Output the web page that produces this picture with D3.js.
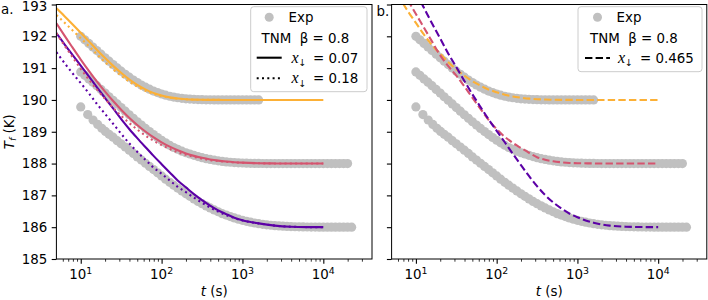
<!DOCTYPE html>
<html><head><meta charset="utf-8">
<script src="https://cdn.jsdelivr.net/npm/d3@7"></script>
<style>
body{margin:0;background:#fff;}
svg{display:block;font-family:"DejaVu Sans",sans-serif;}
text{white-space:pre;}
</style></head><body>
<svg id="chart" width="708" height="300"></svg>
<script>
// ---------- data ----------
const tExp = [10, 11.2, 12.6, 14.1, 15.8, 17.8, 20, 22.4, 25.1, 28.2, 31.6, 35.5, 39.8, 44.7, 50.1, 56.2, 63.1, 70.8, 79.4, 89.1,
  100, 112, 126, 141, 158, 178, 200, 224, 251, 282, 316, 355, 398, 447, 501, 562, 631, 708, 794, 891,
  1000, 1122, 1259, 1413, 1585, 1778, 1995, 2239, 2512, 2818, 3162, 3548, 3981, 4467, 5012, 5623, 6310, 7079, 7943, 8913,
  10000, 11220, 12589, 14125, 15849, 17783, 19953, 22387];
const expT190 = [192.00, 191.89, 191.775, 191.664, 191.554, 191.438, 191.325, 191.217, 191.111, 191.005,
  190.905, 190.807, 190.715, 190.627, 190.546, 190.470, 190.400, 190.337, 190.280, 190.230,
  190.186, 190.149, 190.116, 190.090, 190.068, 190.050, 190.036, 190.026, 190.018, 190.012,
  190.008, 190.005, 190.003, 190.002, 190.001, 190.0, 190.0, 190.0, 190.0, 190.0,
  190.0, 190.0, 190.0, 190.0, 190.0];
const expT188 = [190.88, 190.775, 190.66, 190.557, 190.447, 190.33, 190.216, 190.10, 189.99, 189.874,
  189.761, 189.646, 189.534, 189.423, 189.315, 189.21, 189.106, 189.007, 188.912, 188.82,
  188.733, 188.653, 188.575, 188.505, 188.45, 188.39, 188.34, 188.30, 188.26, 188.22,
  188.185, 188.155, 188.13, 188.105, 188.085, 188.068, 188.053, 188.041, 188.031, 188.023,
  188.017, 188.012, 188.008, 188.005, 188.003, 188.002, 188.001, 188.0, 188.0, 188.0,
  188.0, 188.0, 188.0, 188.0, 188.0, 188.0, 188.0, 188.0, 188.0, 188.0,
  188.0, 188.0, 188.0, 188.0, 188.0, 188.0, 188.0];
const tExpLow = [10, 12.2, 14.2, 16.2, 18.2, 20.2, 22.4, 25.1, 28.2, 31.6, 35.5, 39.8, 44.7, 50.1, 56.2, 63.1, 70.8, 79.4, 89.1,
  100, 112, 126, 141, 158, 178, 200, 224, 251, 282, 316, 355, 398, 447, 501, 562, 631, 708, 794, 891,
  1000, 1122, 1259, 1413, 1585, 1778, 1995, 2239, 2512, 2818, 3162, 3548, 3981, 4467, 5012, 5623, 6310, 7079, 7943, 8913,
  10000, 11220, 12589, 14125, 15849, 17783, 19953, 22387];
const expT186 = [189.78, 189.54, 189.37, 189.23, 189.11, 189.01, 188.92, 188.83, 188.72, 188.62, 188.52, 188.42, 188.32, 188.21, 188.11, 188.01, 187.91, 187.81, 187.71,
  187.61, 187.51, 187.41, 187.32, 187.23, 187.14, 187.05, 186.97, 186.89, 186.81, 186.74, 186.67, 186.605, 186.543, 186.485, 186.426, 186.38, 186.334, 186.291, 186.252,
  186.217, 186.185, 186.157, 186.132, 186.111, 186.091, 186.075, 186.061, 186.049, 186.039, 186.031, 186.024, 186.018, 186.014, 186.010, 186.008, 186.006, 186.004, 186.003, 186.002,
  186.001, 186.0, 186.0, 186.0, 186.0, 186.0, 186.0, 186.0];

const tModel = [5, 6.3, 7.9, 10, 12.6, 15.8, 20, 25, 32, 40, 50, 63, 79, 100, 126, 158, 200, 251, 316, 398, 501, 631, 794, 1000, 1585, 2512, 3981, 6310, 10000];
// panel a: TNM beta = 0.8, x_down = 0.07 (solid)
const fitA07_190 = [192.881, 192.633, 192.380, 192.109, 191.841, 191.579, 191.315, 191.078, 190.837, 190.643, 190.476, 190.333, 190.222, 190.138, 190.080, 190.043, 190.021, 190.009, 190.004, 190.002, 190.001, 190, 190, 190, 190, 190, 190, 190, 190];
const fitA07_188 = [192.41, 192.02, 191.65, 191.27, 190.915, 190.585, 190.262, 189.973, 189.679, 189.435, 189.214, 189.008, 188.830, 188.668, 188.531, 188.418, 188.320, 188.242, 188.180, 188.130, 188.092, 188.064, 188.043, 188.028, 188.011, 188.004, 188.001, 188, 188];
const fitA07_186 = [192.10, 191.75, 191.42, 191.08, 190.74, 190.40, 190.06, 189.74, 189.38, 189.08, 188.80, 188.52, 188.25, 187.98, 187.72, 187.47, 187.25, 187.04, 186.85, 186.68, 186.53, 186.41, 186.30, 186.22, 186.12, 186.05, 186.014, 186.003, 186.001];
// panel a: TNM beta = 0.8, x_down = 0.18 (dotted)
const fitA18_190 = [192.67, 192.43, 192.19, 191.94, 191.69, 191.44, 191.19, 190.97, 190.75, 190.57, 190.42, 190.29, 190.19, 190.12, 190.07, 190.04, 190.02, 190.01, 190.004, 190.002, 190.001, 190, 190, 190, 190, 190, 190, 190, 190];
const fitA18_188 = [192.10, 191.71, 191.35, 190.98, 190.64, 190.33, 190.03, 189.76, 189.49, 189.27, 189.07, 188.88, 188.72, 188.58, 188.46, 188.36, 188.275, 188.21, 188.155, 188.11, 188.08, 188.055, 188.037, 188.024, 188.009, 188.003, 188.001, 188, 188];
const fitA18_186 = [191.50, 191.16, 190.84, 190.53, 190.21, 189.88, 189.56, 189.26, 188.92, 188.63, 188.37, 188.12, 187.88, 187.68, 187.47, 187.27, 187.10, 186.93, 186.77, 186.62, 186.49, 186.38, 186.285, 186.21, 186.12, 186.05, 186.014, 186.003, 186.001];
// panel b: TNM beta = 0.8, x_down = 0.465 (dashed)
const fitB465_190 = [193.6, 193.2, 192.8, 192.42, 192.05, 191.73, 191.45, 191.19, 190.95, 190.76, 190.59, 190.45, 190.33, 190.24, 190.165, 190.11, 190.07, 190.04, 190.022, 190.012, 190.006, 190.003, 190.001, 190, 190, 190, 190, 190, 190];
const fitB465_188 = [194.0, 193.57, 193.15, 192.70, 192.27, 191.84, 191.40, 191.07, 190.75, 190.42, 190.07, 189.72, 189.38, 189.08, 188.84, 188.65, 188.49, 188.34, 188.20, 188.12, 188.07, 188.04, 188.02, 188.012, 188.004, 188.001, 188, 188, 188];
const fitB465_186 = [194.86, 194.35, 193.88, 193.38, 192.89, 192.41, 191.93, 191.47, 191.01, 190.59, 190.18, 189.78, 189.40, 189.03, 188.67, 188.31, 187.95, 187.61, 187.29, 187.01, 186.78, 186.59, 186.43, 186.31, 186.14, 186.05, 186.015, 186.004, 186.001];

const yTicks = [185, 186, 187, 188, 189, 190, 191, 192, 193];
const xMajorTicks = [10, 100, 1000, 10000];
const xMajorExponents = ["1", "2", "3", "4"];
const xMinorTicks = [6, 7, 8, 9, 20, 30, 40, 50, 60, 70, 80, 90, 200, 300, 400, 500, 600, 700, 800, 900,
  2000, 3000, 4000, 5000, 6000, 7000, 8000, 9000, 20000, 30000];

// ---------- drawing ----------
const svg = d3.select("#chart");
const FS = 13.4;
const grey = "#c0c0c0";
const lineColors = ["#fcb036", "#d5546f", "#5c01a6"];
const dashes = {solid: null, dotted: "2,3.3", dashed: "7.4,3.2"};
const yScale = d3.scaleLinear().domain([185, 193]).range([259, 4.5]);

const expSets = [
  {t: tExp, T: expT190},
  {t: tExp, T: expT188},
  {t: tExpLow, T: expT186}
];

const panels = [
  {name: "a.", lx: 1, ly: 13.5, x: d3.scaleLog().domain([5, 40000]).range([56.4, 372.0]), yLabels: true,
   fits: [{style: "solid", series: [fitA07_190, fitA07_188, fitA07_186]},
          {style: "dotted", series: [fitA18_190, fitA18_188, fitA18_186]}]},
  {name: "b.", lx: 376.5, ly: 16, x: d3.scaleLog().domain([5, 40000]).range([391.6, 706.8]), yLabels: false,
   fits: [{style: "dashed", series: [fitB465_190, fitB465_188, fitB465_186]}]}
];

const defs = svg.append("defs");

panels.forEach((p, pi) => {
  const [x0, x1] = p.x.range();
  const yb = yScale.range()[0], yt = yScale.range()[1];
  const g = svg.append("g");
  defs.append("clipPath").attr("id", "clip" + pi).append("rect")
    .attr("x", x0).attr("y", yt).attr("width", x1 - x0).attr("height", yb - yt);
  const plot = g.append("g").attr("clip-path", `url(#clip${pi})`);

  expSets.forEach(s => {
    const pts = d3.zip(s.t, s.T);
    plot.append("g").selectAll("circle").data(pts).join("circle")
      .attr("cx", d => p.x(d[0])).attr("cy", d => yScale(d[1]))
      .attr("r", 4.6).attr("fill", grey);
  });

  const line = d3.line().x(d => p.x(d[0])).y(d => yScale(d[1])).curve(d3.curveMonotoneX);
  p.fits.forEach(f => {
    f.series.forEach((vals, i) => {
      plot.append("path").datum(d3.zip(tModel, vals))
        .attr("d", line).attr("fill", "none")
        .attr("stroke", lineColors[i]).attr("stroke-width", 2.1)
        .attr("stroke-linecap", "butt")
        .attr("stroke-dasharray", dashes[f.style]);
    });
  });

  // x axis major + minor ticks
  g.append("g").attr("transform", `translate(0,${yb})`)
    .call(d3.axisBottom(p.x).tickValues(xMajorTicks).tickSize(4.7).tickFormat(""))
    .call(a => { a.select(".domain").remove(); a.selectAll("line").attr("stroke", "#000").attr("stroke-width", 1.1); });
  g.append("g").attr("transform", `translate(0,${yb})`)
    .call(d3.axisBottom(p.x).tickValues(xMinorTicks).tickSize(2.7).tickFormat(""))
    .call(a => { a.select(".domain").remove(); a.selectAll("line").attr("stroke", "#000").attr("stroke-width", 0.8); });
  const xl = g.append("g").selectAll("text").data(xMajorTicks).join("text")
    .attr("x", d => p.x(d)).attr("y", 279.3).attr("text-anchor", "middle")
    .attr("font-size", FS).attr("fill", "#000");
  xl.append("tspan").text("10");
  xl.append("tspan").attr("dy", -5.8).attr("font-size", FS * 0.7).text((d, i) => xMajorExponents[i]);

  // y axis
  g.append("g").attr("transform", `translate(${x0},0)`)
    .call(d3.axisLeft(yScale).tickValues(yTicks).tickSize(4.7).tickPadding(4.5)
      .tickFormat(p.yLabels ? d3.format("d") : ""))
    .call(a => {
      a.select(".domain").remove();
      a.selectAll("line").attr("stroke", "#000").attr("stroke-width", 1.1);
      a.selectAll("text").attr("font-size", FS).attr("font-family", "DejaVu Sans").attr("fill", "#000")
        .attr("dy", d => d === 193 ? "0.42em" : "0.32em");
    });

  // frame
  g.append("rect").attr("x", x0).attr("y", yt).attr("width", x1 - x0).attr("height", yb - yt)
    .attr("fill", "none").attr("stroke", "#000").attr("stroke-width", 1);

  // x label
  const xt = g.append("text").attr("x", (x0 + x1) / 2).attr("y", 295.5).attr("text-anchor", "middle").attr("font-size", FS);
  xt.append("tspan").attr("font-style", "italic").text("t");
  xt.append("tspan").text(" (s)");

  // panel label
  g.append("text").attr("x", p.lx).attr("y", p.ly).attr("font-size", FS).text(p.name);
});

// y label
const ylab = svg.append("text").attr("transform", `translate(13.5,${(259 + 4.5) / 2}) rotate(-90)`)
  .attr("text-anchor", "middle").attr("font-size", FS);
ylab.append("tspan").attr("font-style", "italic").text("T");
ylab.append("tspan").attr("font-style", "italic").attr("font-size", FS * 0.7).attr("dy", 2.5).text("f");
ylab.append("tspan").attr("dy", -2.5).text(" (K)");

// ---------- legends ----------
function legend(box, rows) {
  const g = svg.append("g");
  g.append("rect").attr("x", box.x).attr("y", box.y).attr("width", box.w).attr("height", box.h)
    .attr("rx", 3).attr("fill", "#fff").attr("fill-opacity", 0.8).attr("stroke", "#cccccc").attr("stroke-width", 1);
  rows.forEach(r => {
    if (r.type === "dot") {
      g.append("circle").attr("cx", r.hx + 12.5).attr("cy", r.y).attr("r", 4.5).attr("fill", grey);
      g.append("text").attr("x", r.tx).attr("y", r.y + 4.8).attr("font-size", FS).text(r.label);
    } else if (r.type === "text") {
      g.append("text").attr("x", r.tx).attr("y", r.y + 4.8).attr("font-size", FS).text(r.label);
    } else {
      g.append("line").attr("x1", r.hx).attr("x2", r.hx + 25).attr("y1", r.y).attr("y2", r.y)
        .attr("stroke", "#000").attr("stroke-width", 2.1).attr("stroke-dasharray", dashes[r.type]);
      const t = g.append("text").attr("x", r.tx).attr("y", r.y + 4.8).attr("font-size", FS);
      t.append("tspan").attr("font-family", "Liberation Serif").attr("font-style", "italic").attr("font-size", 16).text("x");
      t.append("tspan").attr("font-size", 9.5).attr("dy", 3.5).text("\u2193");
      t.append("tspan").attr("x", r.ex).attr("dy", -3.5).text("= " + r.label);
    }
  });
}
legend({x: 250.7, y: 6.7, w: 116.3, h: 85},
  [{type: "dot", hx: 256.7, y: 17.3, tx: 288.5, label: "Exp"},
   {type: "text", tx: 261.5, y: 38.2, label: "TNM  \u03b2 = 0.8"},
   {type: "solid", hx: 256.7, y: 57.7, tx: 291.5, ex: 313, label: "0.07"},
   {type: "dotted", hx: 256.7, y: 78.3, tx: 291.5, ex: 313, label: "0.18"}]);
legend({x: 578, y: 6.7, w: 124, h: 65},
  [{type: "dot", hx: 585, y: 17.3, tx: 616.5, label: "Exp"},
   {type: "text", tx: 590, y: 38.2, label: "TNM  \u03b2 = 0.8"},
   {type: "dashed", hx: 585, y: 58, tx: 618, ex: 640, label: "0.465"}]);
</script>
</body></html>
